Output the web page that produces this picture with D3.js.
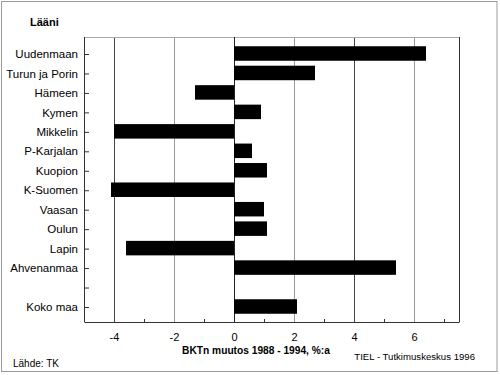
<!DOCTYPE html>
<html>
<head>
<meta charset="utf-8">
<script src="https://cdn.jsdelivr.net/npm/d3@7"></script>
<style>
  html, body { margin: 0; padding: 0; background: #fff; }
  svg { display: block; font-family: "Liberation Sans", Arial, sans-serif; }
</style>
</head>
<body>
<svg id="chart" width="500" height="375"></svg>
<script>
const categories = ["Uudenmaan", "Turun ja Porin", "Hämeen", "Kymen", "Mikkelin", "P-Karjalan",
  "Kuopion", "K-Suomen", "Vaasan", "Oulun", "Lapin", "Ahvenanmaa", "", "Koko maa"];
const values = [6.4, 2.7, -1.3, 0.9, -4.0, 0.6, 1.1, -4.1, 1.0, 1.1, -3.6, 5.4, null, 2.1];
const majorTicks = [-4, -2, 0, 2, 4, 6];
const minorTicks = [-3, -1, 1, 3, 5, 7];
const axisTitle = "BKTn muutos 1988 - 1994, %:a";
const groupTitle = "Lääni";
const sourceText = "Lähde: TK";
const creditText = "TIEL - Tutkimuskeskus 1996";

const svg = d3.select("#chart");
const plot = { left: 84, right: 459, top: 37, bottom: 322 };

const x = d3.scaleLinear().domain([-5, 7.5]).range([plot.left, plot.right]);
const y = d3.scalePoint().domain(categories).range([54, 307]);
const barH = 14.5;

// outer frame
svg.append("rect").attr("x", 1.5).attr("y", 1.5).attr("width", 495.5).attr("height", 370)
  .attr("fill", "none").attr("stroke", "#9a9a9a").attr("stroke-width", 1);

// gridlines
svg.append("g").selectAll("line").data(majorTicks.filter(d => d !== 0)).join("line")
  .attr("x1", d => Math.round(x(d)) + 0.5).attr("x2", d => Math.round(x(d)) + 0.5)
  .attr("y1", plot.top).attr("y2", plot.bottom)
  .attr("stroke", d => (d === -4 || d === 4) ? "#444" : "#999").attr("stroke-width", 1);

// plot border: top light, right dark
svg.append("line").attr("x1", plot.left).attr("x2", plot.right).attr("y1", plot.top + 0.5).attr("y2", plot.top + 0.5)
  .attr("stroke", "#aaa");
svg.append("line").attr("x1", plot.right + 0.5).attr("x2", plot.right + 0.5).attr("y1", plot.top).attr("y2", plot.bottom)
  .attr("stroke", "#333");

// zero line
svg.append("line").attr("x1", Math.round(x(0)) + 0.5).attr("x2", Math.round(x(0)) + 0.5)
  .attr("y1", plot.top).attr("y2", plot.bottom).attr("stroke", "#222");

// bars
svg.append("g").selectAll("rect").data(categories.map((c, i) => ({ c, v: values[i] })).filter(d => d.v !== null))
  .join("rect")
  .attr("x", d => x(Math.min(0, d.v)))
  .attr("width", d => Math.abs(x(d.v) - x(0)))
  .attr("y", d => y(d.c) - barH / 2 - 0.5)
  .attr("height", barH)
  .attr("fill", "#000");

// x axis
const xAxis = svg.append("g").attr("transform", `translate(0,${plot.bottom})`)
  .call(d3.axisBottom(x).tickValues(majorTicks).tickSize(0).tickPadding(11).tickFormat(d3.format("d")));
xAxis.select(".domain").attr("stroke", "#333");
xAxis.selectAll("text").attr("font-size", "11px").attr("fill", "#000")
  .text(d => d < 0 ? "-" + Math.abs(d) : d);

const xMinor = svg.append("g").attr("transform", `translate(0,${plot.bottom})`)
  .call(d3.axisBottom(x).tickValues(minorTicks).tickSize(-3).tickFormat(""));
xMinor.select(".domain").remove();
xMinor.selectAll("line").attr("stroke", "#333");

// y axis
const yAxis = svg.append("g").attr("transform", `translate(${plot.left},0)`)
  .call(d3.axisLeft(y).tickSize(-5).tickPadding(6));
yAxis.select(".domain").attr("stroke", "#333").attr("d", `M0.5,${plot.top}V${plot.bottom}`);
yAxis.selectAll("line").attr("stroke", "#333");
yAxis.selectAll("text").attr("font-size", "11.5px").attr("fill", "#000");

// texts
svg.append("text").attr("x", 30).attr("y", 26).attr("font-size", "11px").attr("font-weight", "bold")
  .text(groupTitle);
svg.append("text").attr("x", 256).attr("y", 354).attr("text-anchor", "middle")
  .attr("font-size", "10.2px").attr("font-weight", "bold").text(axisTitle);
svg.append("text").attr("x", 13).attr("y", 367).attr("font-size", "10px").text(sourceText);
svg.append("text").attr("x", 475).attr("y", 360).attr("text-anchor", "end")
  .attr("font-size", "9.6px").text(creditText);
</script>
</body>
</html>
